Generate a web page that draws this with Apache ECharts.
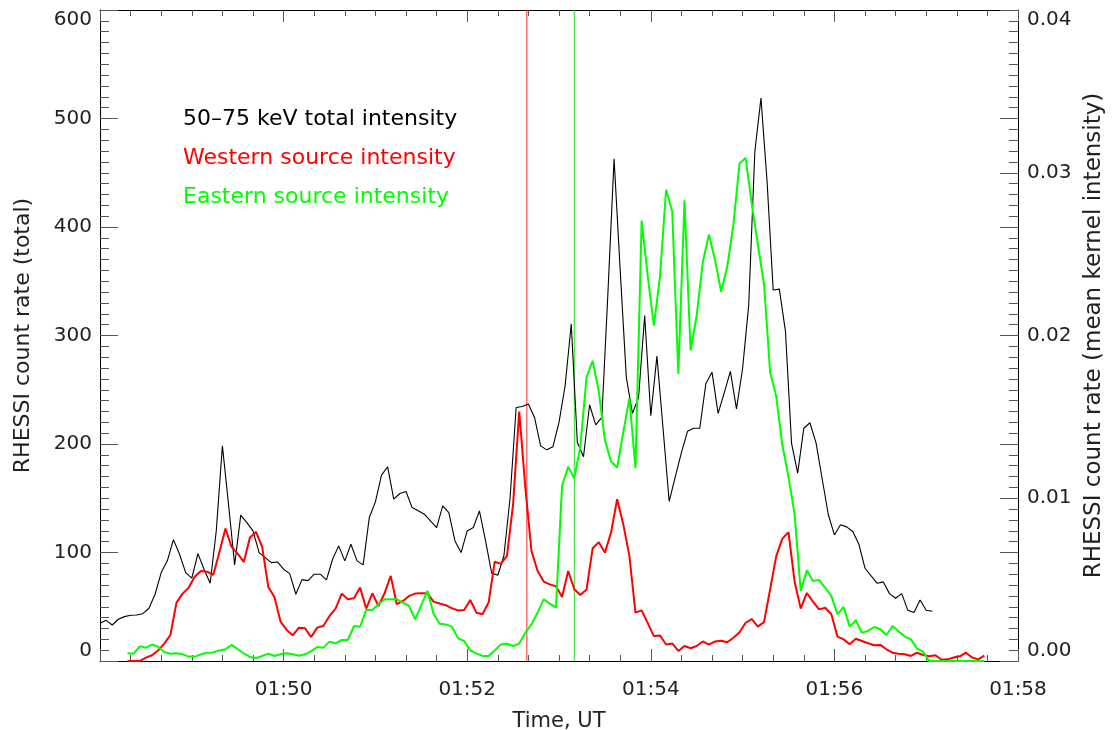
<!DOCTYPE html>
<html>
<head>
<meta charset="utf-8">
<script src="https://cdn.jsdelivr.net/npm/echarts@6/dist/echarts.min.js"></script>
<style>
html,body{margin:0;padding:0;background:#fff;}
#chart{width:1113px;height:730px;}
</style>
</head>
<body>
<div id="chart"></div>
<script>
// Sample timing (seconds after 01:48:00 UT)
const TOTAL_T0 = 0;
const SOURCE_T0 = 18;
const CADENCE = 4;

// 50-75 keV total count rate (left axis)
const totalRate = [
34.8,37.5,33.2,38.5,40.9,42.1,42.4,43.6,48.6,61.5,
81.5,92.3,111.9,98.4,81.5,76.3,99,84.6,71.7,120,
198.3,144.5,88.6,134.4,127.6,119.9,99.9,95.3,90.7,91.3,
84.6,80.5,61.5,75,74.1,80,80,74.7,93.8,106.1,
92.3,107.6,92.3,88.6,132.2,146.7,171.3,179,149.2,154.4,
156.2,141.4,138.4,135.3,129.2,123,143,136.8,110.7,99.9,
119.9,123,138.4,110.7,81,79,97,150,233.7,234.6,
236.8,224.5,198.3,194.6,197.4,219.9,253.7,310.6,201.4,188.2,
236.2,217.7,224.5,340,462.8,360,261.4,228.2,242.9,318.3,
226,281,214.5,147.2,169.6,192,211.7,214.5,214.5,255.8,
266.2,228.2,247.2,266.9,232.4,269.6,328.2,469.6,518.8,442,
342,342.7,304.1,200.6,173.1,214.5,219.6,201,168,135,
116.2,125.5,123.6,119.3,107.6,85.5,78.4,71.6,72.9,62.1,
57.8,62.1,46.7,44.6,56.3,46.7,45.8
];

// Western source mean kernel intensity (right axis)
const westernRate = [
0,0,0,0.00021,0.00035,0.00065,0.00107,0.0016,0.00359,0.00414,
0.00451,0.00519,0.00553,0.00549,0.00529,0.00666,0.00814,0.00701,0.0066,0.00609,
0.00759,0.00793,0.00701,0.00455,0.00393,0.00242,0.00191,0.00158,0.00205,0.00201,
0.00147,0.00205,0.00215,0.00277,0.00322,0.00414,0.00379,0.00385,0.00451,0.00322,
0.00416,0.00338,0.00416,0.00523,0.00349,0.00369,0.004,0.00414,0.00416,0.00416,
0.00365,0.00353,0.00343,0.00324,0.00311,0.00313,0.00375,0.00297,0.00287,0.00359,
0.0061,0.00597,0.00646,0.00963,0.01533,0.01067,0.00677,0.00553,0.00488,0.00471,
0.00459,0.00393,0.00553,0.00441,0.00406,0.00439,0.00693,0.0073,0.00666,0.00789,
0.00994,0.00841,0.00646,0.00297,0.00311,0.00233,0.00153,0.00157,0.00101,0.00108,
0.00062,0.00092,0.00078,0.00092,0.0012,0.00101,0.0012,0.00124,0.00115,0.00143,
0.00177,0.00235,0.00257,0.00211,0.00239,0.00441,0.00644,0.00752,0.00791,0.00487,
0.00322,0.00418,0.00365,0.00317,0.00327,0.00287,0.0015,0.00133,0.00103,0.00137,
0.00123,0.00109,0.00097,0.00099,0.00072,0.00051,0.00045,0.00041,0.00031,0.00051,
0.00037,0.00029,0.00035,0.00008,0.0001,0.00021,0.00029,0.00051,0.00021,0.0001,
0.00033
];

// Eastern source mean kernel intensity (right axis)
const easternRate = [
0.00047,0.00045,0.0009,0.00082,0.00101,0.00088,0.00055,0.00045,0.00047,0.00041,
0.00027,0.00027,0.00041,0.00051,0.00053,0.00065,0.00072,0.00099,0.00072,0.00047,
0.00025,0.00017,0.00031,0.00045,0.00031,0.00041,0.00047,0.00041,0.00032,0.00041,
0.00061,0.00086,0.00082,0.00119,0.00109,0.00129,0.00129,0.00215,0.00211,0.00313,
0.00313,0.00349,0.00379,0.00379,0.00379,0.00359,0.00338,0.00256,0.00343,0.00431,
0.00291,0.00229,0.00225,0.00211,0.00139,0.00123,0.00065,0.00047,0.00031,0.00031,
0.00065,0.00102,0.00107,0.00092,0.00107,0.00174,0.00225,0.00297,0.00379,0.00353,
0.00328,0.01076,0.01193,0.01123,0.01322,0.01743,0.01845,0.01657,0.01357,0.01226,
0.01189,0.01404,0.01615,0.01185,0.02706,0.02367,0.0206,0.0236,0.02896,0.02763,
0.01763,0.02831,0.01908,0.02123,0.02453,0.0262,0.02464,0.02269,0.02425,0.02682,
0.03057,0.03091,0.02809,0.02556,0.02315,0.01774,0.01625,0.01327,0.01131,0.00901,
0.0043,0.00557,0.00492,0.00497,0.0045,0.004,0.00287,0.00332,0.00211,0.0025,
0.00174,0.00185,0.00209,0.00195,0.0016,0.00215,0.00181,0.0015,0.00133,0.00076,
0.00057,0,0,0,0,0,0,0,0,0,
0
];

// Vertical marker times (seconds after 01:48:00)
const westernMarkerT = 279;
const easternMarkerT = 310;

const seriesNames = ['50\u201375 keV total intensity', 'Western source intensity', 'Eastern source intensity'];
const seriesColors = ['#000000', '#ff0000', '#00ff00'];
const markerColors = ['#ff2a2a', '#1fe01f'];

const FONT = 'DejaVu Sans';
const TXT = '#222';
const TICK = '#555';

const X_MIN = 0, X_MAX = 600;
const YR_MIN = 0, YR_MAX = 0.04;

const toPairs = (arr, t0) => arr.map((v, i) => [t0 + CADENCE * i, v]);

const chart = echarts.init(document.getElementById('chart'), null, {renderer: 'canvas'});

const xCommon = {
  type: 'value', min: X_MIN, max: X_MAX, interval: 120,
  splitLine: {show: false},
  axisLine: {show: true, onZero: false, lineStyle: {color: '#000', width: 1}},
  axisTick: {show: true, inside: true, length: 12, lineStyle: {color: TICK}},
  minorTick: {show: true, splitNumber: 6, length: 6, lineStyle: {color: TICK}},
  minorSplitLine: {show: false}
};

const markerSeries = (t, color) => ({
  type: 'line', xAxisIndex: 0, yAxisIndex: 1,
  data: [[t, YR_MIN], [t, YR_MAX]],
  showSymbol: false, symbol: 'none', silent: true,
  lineStyle: {color: color, width: 1, opacity: 1},
  itemStyle: {color: color},
  emphasis: {disabled: true},
  tooltip: {show: false},
  z: 1
});

const option = {
  animation: false,
  backgroundColor: '#fff',
  grid: {left: 100, right: 95, top: 10, bottom: 69, containLabel: false, outerBoundsMode: 'none'},
  legend: {
    orient: 'vertical', left: 173, top: 103,
    itemWidth: 0, itemHeight: 0, itemGap: 17,
    icon: 'rect',
    itemStyle: {opacity: 0}, lineStyle: {opacity: 0},
    selectedMode: false,
    textStyle: {fontFamily: FONT, fontSize: 22, lineHeight: 22},
    data: seriesNames.map((n, k) => ({name: n, textStyle: {color: seriesColors[k]}}))
  },
  xAxis: [
    Object.assign({}, xCommon, {
      position: 'bottom',
      axisLabel: {
        show: true, margin: 19, showMinLabel: false,
        fontFamily: FONT, fontSize: 20, color: TXT,
        formatter: (t) => '01:' + String(48 + Math.round(t / 60)).padStart(2, '0')
      },
      name: 'Time, UT', nameLocation: 'middle', nameGap: 50,
      nameTextStyle: {fontFamily: FONT, fontSize: 21, color: TXT}
    }),
    Object.assign({}, xCommon, {
      position: 'top',
      axisLabel: {show: false}
    })
  ],
  yAxis: [
    {
      type: 'value', position: 'left', min: 0, max: 600, interval: 100,
      splitLine: {show: false},
      axisLine: {show: true, onZero: false, lineStyle: {color: '#000', width: 1}},
      axisTick: {show: true, inside: true, length: 18, lineStyle: {color: TICK}},
      minorTick: {show: true, splitNumber: 10, length: 9, lineStyle: {color: TICK}},
      axisLabel: {
        margin: 8, fontFamily: FONT, fontSize: 20, color: TXT,
        verticalAlignMinLabel: 'bottom', verticalAlignMaxLabel: 'top'
      },
      name: 'RHESSI count rate (total)', nameLocation: 'middle', nameRotate: 90, nameGap: 66,
      nameTextStyle: {fontFamily: FONT, fontSize: 22, color: TXT}
    },
    {
      type: 'value', position: 'right', min: YR_MIN, max: YR_MAX, interval: 0.01,
      splitLine: {show: false},
      axisLine: {show: true, onZero: false, lineStyle: {color: '#000', width: 1}},
      axisTick: {show: true, inside: true, length: 18, lineStyle: {color: TICK}},
      minorTick: {show: true, splitNumber: 5, length: 7, lineStyle: {color: TICK}},
      axisLabel: {
        margin: 9, fontFamily: FONT, fontSize: 20, color: TXT,
        formatter: (v) => v.toFixed(2),
        verticalAlignMinLabel: 'bottom', verticalAlignMaxLabel: 'top'
      },
      name: 'RHESSI count rate (mean kernel intensity)', nameLocation: 'middle', nameRotate: 90, nameGap: 64,
      nameTextStyle: {fontFamily: FONT, fontSize: 23, color: TXT}
    },
    {
      type: 'value', position: 'right', min: 0, max: 600, interval: 100,
      splitLine: {show: false},
      axisLine: {show: false, onZero: false},
      axisTick: {show: true, inside: true, length: 18, lineStyle: {color: TICK}},
      minorTick: {show: true, splitNumber: 10, length: 9, lineStyle: {color: TICK}},
      axisLabel: {show: false}
    }
  ],
  series: [
    markerSeries(westernMarkerT, markerColors[0]),
    markerSeries(easternMarkerT, markerColors[1]),
    {
      name: seriesNames[0], type: 'line', xAxisIndex: 0, yAxisIndex: 0,
      data: toPairs(totalRate, TOTAL_T0),
      showSymbol: false, symbol: 'none',
      lineStyle: {color: seriesColors[0], width: 1.1},
      itemStyle: {color: seriesColors[0]}, z: 2
    },
    {
      name: seriesNames[1], type: 'line', xAxisIndex: 0, yAxisIndex: 1,
      data: toPairs(westernRate, SOURCE_T0),
      showSymbol: false, symbol: 'none',
      lineStyle: {color: seriesColors[1], width: 2},
      itemStyle: {color: seriesColors[1]}, z: 3
    },
    {
      name: seriesNames[2], type: 'line', xAxisIndex: 0, yAxisIndex: 1,
      data: toPairs(easternRate, SOURCE_T0),
      showSymbol: false, symbol: 'none',
      lineStyle: {color: seriesColors[2], width: 2},
      itemStyle: {color: seriesColors[2]}, z: 4
    }
  ]
};

chart.setOption(option);
</script>
</body>
</html>
